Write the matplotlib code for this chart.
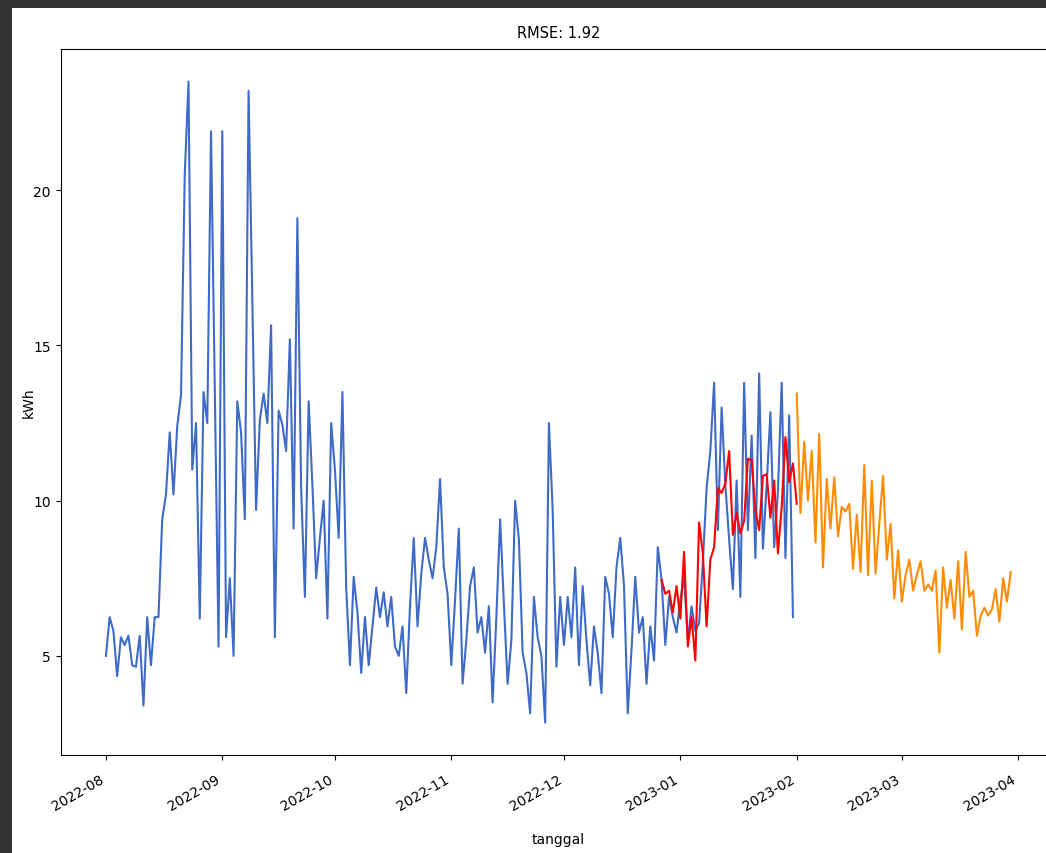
import matplotlib
matplotlib.use("Agg")
import matplotlib.pyplot as plt
import pandas as pd
from matplotlib.patches import Rectangle

# daily kWh, actual (blue), test prediction (red), forecast (orange)
actual_start = "2022-08-01"
actual_kwh = [
    5.0, 6.25, 5.8, 4.35, 5.6, 5.35, 5.65, 4.7, 4.65, 5.65,
    3.4, 6.25, 4.7, 6.25, 6.25, 9.4, 10.2, 12.2, 10.2, 12.4,
    13.4, 20.5, 23.5, 11.0, 12.5, 6.2, 13.5, 12.5, 21.9, 13.6,
    5.3, 21.9, 5.6, 7.5, 5.0, 13.2, 12.2, 9.4, 23.2, 16.5,
    9.7, 12.6, 13.45, 12.5, 15.65, 5.6, 12.9, 12.45, 11.6, 15.2,
    9.1, 19.1, 10.4, 6.9, 13.2, 10.5, 7.5, 8.8, 10.0, 6.2,
    12.5, 11.0, 8.8, 13.5, 7.2, 4.7, 7.55, 6.4, 4.45, 6.25,
    4.7, 5.95, 7.2, 6.25, 7.05, 5.95, 6.9, 5.3, 5.0, 5.95,
    3.8, 6.6, 8.8, 5.95, 7.65, 8.8, 8.1, 7.5, 8.5, 10.7,
    7.85, 7.0, 4.7, 6.8, 9.1, 4.1, 5.5, 7.25, 7.85, 5.75,
    6.25, 5.1, 6.6, 3.5, 6.25, 9.4, 6.7, 4.1, 5.5, 10.0,
    8.75, 5.1, 4.45, 3.15, 6.9, 5.6, 5.0, 2.85, 12.5, 9.7,
    4.65, 6.9, 5.35, 6.9, 5.6, 7.85, 4.7, 7.25, 5.5, 4.05,
    5.95, 5.1, 3.8, 7.55, 7.0, 5.6, 7.85, 8.8, 7.25, 3.15,
    5.2, 7.55, 5.75, 6.25, 4.1, 5.95, 4.85, 8.5, 7.45, 5.35,
    6.9, 6.25, 5.75, 6.8, 7.55, 5.5, 6.6, 5.8, 6.05, 8.0,
    10.4, 11.6, 13.8, 9.05, 13.0, 10.5, 8.75, 7.15, 10.65, 6.9,
    13.8, 9.05, 12.1, 8.15, 14.1, 8.45, 10.5, 12.85, 8.5, 10.3,
    13.8, 8.15, 12.75, 6.25,
]

pred_start = "2022-12-27"
pred_kwh = [
    7.45, 7.0, 7.1, 6.4, 7.25, 6.2, 8.35, 5.3, 6.25, 4.85,
    9.3, 8.3, 5.95, 8.1, 8.5, 10.4, 10.25, 10.55, 11.6, 8.9,
    9.6, 8.95, 9.35, 11.35, 11.3, 9.7, 9.05, 10.8, 10.85, 9.45,
    10.65, 8.3, 9.8, 12.05, 10.6, 11.2, 9.9,
]

forecast_start = "2023-02-01"
forecast_kwh = [
    13.45, 9.6, 11.9, 10.0, 11.6, 8.65, 12.15, 7.85, 10.7, 9.1,
    10.75, 8.85, 9.8, 9.65, 9.9, 7.8, 9.55, 7.7, 11.15, 7.6,
    10.65, 7.65, 9.25, 10.8, 8.1, 9.25, 6.85, 8.4, 6.75, 7.6,
    8.1, 7.1, 7.6, 8.05, 7.1, 7.3, 7.1, 7.75, 5.1, 7.85,
    6.55, 7.45, 6.2, 8.05, 5.85, 8.35, 6.9, 7.1, 5.65, 6.3,
    6.55, 6.3, 6.5, 7.15, 6.1, 7.5, 6.75, 7.7,
]

actual_dates = pd.date_range(actual_start, periods=len(actual_kwh), freq="D")
pred_dates = pd.date_range(pred_start, periods=len(pred_kwh), freq="D")
forecast_dates = pd.date_range(forecast_start, periods=len(forecast_kwh), freq="D")

fig = plt.figure(figsize=(10.46, 8.54), dpi=100, facecolor="white")
# screenshot look: dark frame strips along the top and left edge
fig.patches.append(Rectangle((0, (854 - 8.5) / 854), 1.0, 8.5 / 854,
                             transform=fig.transFigure, facecolor="#333333",
                             edgecolor="none", zorder=5))
fig.patches.append(Rectangle((0, 0), 11.5 / 1046, 1.0,
                             transform=fig.transFigure, facecolor="#333333",
                             edgecolor="none", zorder=5))

ax = fig.add_axes([0.058, 0.1151, 0.9515, 0.8258])
ax.plot(actual_dates, actual_kwh, color="#3f6bc6", lw=1.5)
ax.plot(pred_dates, pred_kwh, color="red", lw=1.5)
ax.plot(forecast_dates, forecast_kwh, color="darkorange", lw=1.5)

ax.set_title("RMSE: 1.92", fontsize=10.5, pad=9)
ax.set_xlabel("tanggal", labelpad=14)
ax.set_ylabel("kWh", labelpad=-2)
ax.tick_params(axis="x", pad=9)
plt.setp(ax.get_xticklabels(), rotation=30, ha="right")

fig.savefig("out.png", dpi=100)
